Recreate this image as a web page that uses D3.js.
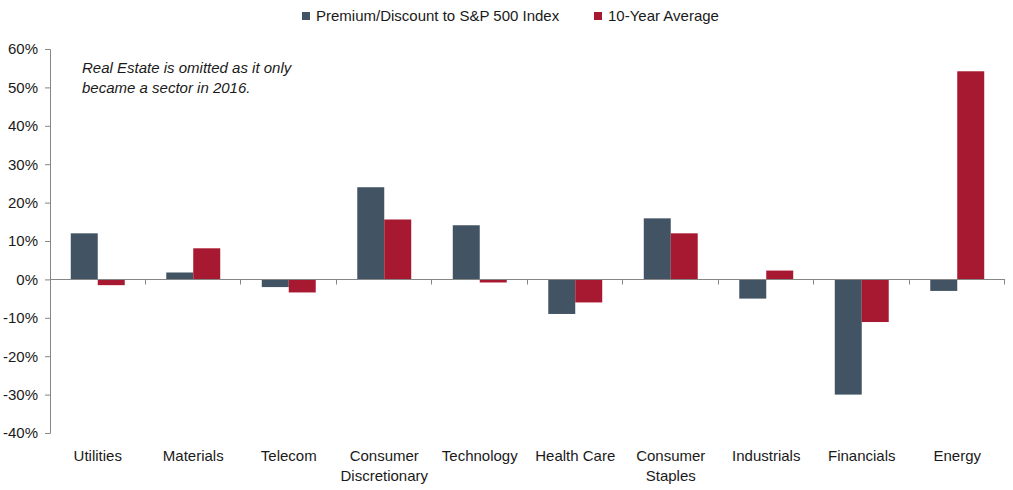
<!DOCTYPE html>
<html>
<head>
<meta charset="utf-8">
<script src="https://cdn.jsdelivr.net/npm/d3@7"></script>
<style>
  body { margin: 0; background: #fff; }
  text { font-family: "Liberation Sans", Arial, sans-serif; fill: #1a1a1a; }
</style>
</head>
<body>
<div id="chart"></div>
<script>
var sectors = ["Utilities", "Materials", "Telecom", "Consumer Discretionary", "Technology",
               "Health Care", "Consumer Staples", "Industrials", "Financials", "Energy"];
var sectorLines = [["Utilities"], ["Materials"], ["Telecom"], ["Consumer", "Discretionary"], ["Technology"],
                   ["Health Care"], ["Consumer", "Staples"], ["Industrials"], ["Financials"], ["Energy"]];
var premium = [12, 1.8, -2, 24, 14.1, -9, 15.9, -5, -30, -3];
var tenYearAvg = [-1.5, 8.1, -3.4, 15.6, -0.8, -6, 12, 2.3, -11.1, 54.2];
var seriesNames = ["Premium/Discount to S&P 500 Index", "10-Year Average"];
var yTicks = [-40, -30, -20, -10, 0, 10, 20, 30, 40, 50, 60];

var colors = ["#425464", "#a71930"];
var width = 1013, height = 490;
var plotLeft = 50, plotRight = 1005, plotTop = 49, plotBottom = 433;

var svg = d3.select("#chart").append("svg")
  .attr("width", width).attr("height", height);

var x = d3.scaleBand().domain(sectors).range([plotLeft, plotRight])
  .paddingInner(0.435).paddingOuter(0.2175);
var y = d3.scaleLinear().domain([-40, 60]).range([plotBottom, plotTop]);
var x1 = d3.scaleBand().domain([0, 1]).range([0, x.bandwidth()]);

var axisColor = "#868686";

// y axis
var yAxis = svg.append("g")
  .attr("transform", "translate(" + plotLeft + ",0)")
  .call(d3.axisLeft(y).tickValues(yTicks).tickSize(5).tickFormat(function(d) { return d + "%"; }));
yAxis.select(".domain").attr("stroke", axisColor)
  .attr("d", "M-5," + (y(60) + 0.5) + "H0.5V" + (y(-40) + 0.5) + "H-5");
yAxis.selectAll(".tick line").attr("stroke", axisColor);
yAxis.selectAll(".tick text")
  .style("font-size", "15px").style("font-family", "Liberation Sans, Arial, sans-serif")
  .attr("fill", "#1a1a1a").attr("x", -12);

// bars
var data = sectors.map(function(s, i) { return { sector: s, vals: [premium[i], tenYearAvg[i]] }; });
var groups = svg.append("g").selectAll("g").data(data).enter().append("g")
  .attr("transform", function(d) { return "translate(" + x(d.sector) + ",0)"; });
groups.selectAll("rect").data(function(d) { return d.vals.map(function(v, j) { return { v: v, j: j }; }); })
  .enter().append("rect")
  .attr("x", function(d) { return x1(d.j); })
  .attr("width", x1.bandwidth())
  .attr("y", function(d) { return y(Math.max(0, d.v)); })
  .attr("height", function(d) { return Math.abs(y(d.v) - y(0)); })
  .attr("fill", function(d) { return colors[d.j]; });

// x axis at zero
var zeroY = Math.round(y(0)) + 0.5;
svg.append("line").attr("x1", plotLeft).attr("x2", plotRight).attr("y1", zeroY).attr("y2", zeroY)
  .attr("stroke", axisColor).attr("stroke-width", 1);
var bounds = d3.range(1, sectors.length + 1).map(function(i) { return plotLeft + i * x.step(); });
svg.append("g").selectAll("line").data(bounds).enter().append("line")
  .attr("x1", function(d) { return Math.round(d) - 0.5; })
  .attr("x2", function(d) { return Math.round(d) - 0.5; })
  .attr("y1", zeroY).attr("y2", zeroY + 5)
  .attr("stroke", axisColor);

// category labels
var labels = svg.append("g").selectAll("text").data(sectors).enter().append("text")
  .attr("text-anchor", "middle")
  .style("font-size", "15px")
  .attr("y", 461);
labels.each(function(d, i) {
  var t = d3.select(this);
  var cx = x(d) + x.bandwidth() / 2;
  sectorLines[i].forEach(function(w, k) {
    t.append("tspan").attr("x", cx).attr("dy", k === 0 ? 0 : 20).text(w);
  });
});

// legend
var legendX = [302, 594];
seriesNames.forEach(function(name, i) {
  svg.append("rect").attr("x", legendX[i]).attr("y", 12).attr("width", 8).attr("height", 8).attr("fill", colors[i]);
  svg.append("text").attr("x", legendX[i] + 14).attr("y", 21).style("font-size", "15px").text(name);
});

// note
var note = ["Real Estate is omitted as it only", "became a sector in 2016."];
svg.append("g").selectAll("text").data(note).enter().append("text")
  .attr("x", 82).attr("y", function(d, i) { return 73 + i * 20; })
  .style("font-size", "15px").style("font-style", "italic")
  .text(function(d) { return d; });
</script>
</body>
</html>
